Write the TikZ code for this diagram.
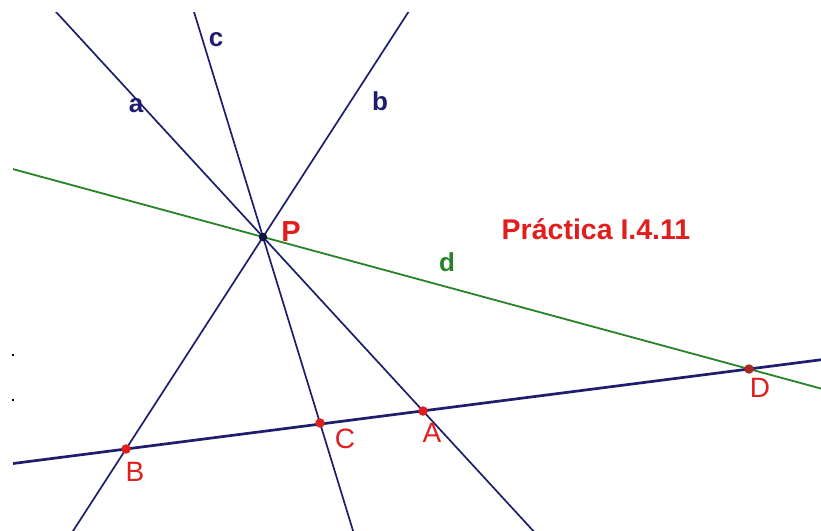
\documentclass[tikz,border=0pt]{standalone}
\usepackage{fontspec}
\setmainfont{Liberation Sans}
\usetikzlibrary{calc}
\definecolor{navy}{RGB}{30,30,110}
\definecolor{ggreen}{RGB}{40,130,40}
\definecolor{rred}{RGB}{225,30,30}
\definecolor{dred}{RGB}{170,40,30}
\tikzset{
  geoline/.style={draw=navy,line width=1.7pt},
  thickline/.style={draw=navy,line width=2.7pt},
  greenline/.style={draw=ggreen,line width=1.8pt},
  ptdot/.style={circle,fill=rred,inner sep=0pt,minimum size=9.5pt},
  lbl/.style={text=navy,font=\bfseries\fontsize{26}{26}\selectfont,inner sep=0pt},
  ptlbl/.style={text=rred,font=\fontsize{28}{28}\selectfont,inner sep=0pt},
}
\begin{document}
\begin{tikzpicture}[x=1pt,y=-1pt]
\useasboundingbox (0,0) rectangle (821,530);
\fill[white] (0,0) rectangle (821,530);
\coordinate (P) at (263,237);
\coordinate (A) at (423,411);
\coordinate (B) at (126,449);
\coordinate (C) at (320,423);
\coordinate (D) at (749,369);
\begin{scope}
\clip (13,12) rectangle (821,530);
\draw[greenline] ($(P)!-3!(D)$) -- ($(P)!3!(D)$);
\draw[thickline] ($(B)!-3!(D)$) -- ($(B)!3!(D)$);
\draw[geoline] ($(P)!-3!(A)$) -- ($(P)!3!(A)$);
\draw[geoline] ($(P)!-3!(C)$) -- ($(P)!3!(C)$);
\draw[geoline] ($(P)!-3!(B)$) -- ($(P)!3!(B)$);
\end{scope}
\node[circle,fill=navy!60!black,inner sep=0pt,minimum size=8.5pt] (Pd) at (P) {};
\node[ptdot] (Ad) at (A) {};
\node[ptdot] (Bd) at (B) {};
\node[ptdot] (Cd) at (C) {};
\node[ptdot,fill=dred] (Dd) at (D) {};
\fill[black] (12,354) rectangle (14,356);
\fill[black] (12,399) rectangle (14,401);
\node[lbl] (la) at (136,106) {a};
\node[lbl] (lc) at (216,40) {c};
\node[lbl] (lb) at (380,101) {b};
\node[lbl,text=ggreen] (ld) at (447,262) {d};
\node[text=rred,font=\bfseries\fontsize{29}{29}\selectfont,inner sep=0pt] (lP) at (291,232) {P};
\node[ptlbl] (lA) at (432,433) {A};
\node[ptlbl] (lB) at (135,472) {B};
\node[ptlbl] (lC) at (345,439) {C};
\node[ptlbl] (lD) at (760,388) {D};
\node[text=rred,font=\bfseries\fontsize{28.5}{28.5}\selectfont,inner sep=0pt] (title) at (596,229) {Práctica I.4.11};
\end{tikzpicture}
\end{document}
